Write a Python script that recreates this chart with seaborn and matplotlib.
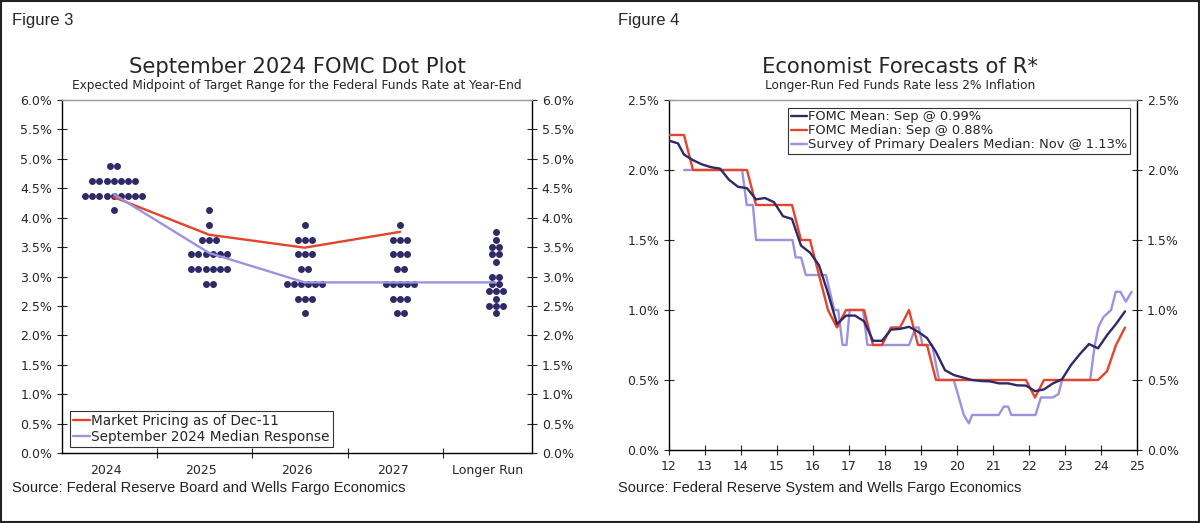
import matplotlib
matplotlib.use('Agg')
import matplotlib.pyplot as plt
import seaborn as sns
import pandas as pd
from matplotlib.ticker import FuncFormatter
from matplotlib.patches import Rectangle

NAVY = '#2d2a66'
RED = '#e5432b'
LAV = '#9c92e2'

# ---- Figure 3 data: September 2024 dot plot (rate -> number of dots)
categories = ['2024', '2025', '2026', '2027', 'Longer Run']
dots_2024 = {4.875: 2, 4.625: 7, 4.375: 9, 4.125: 1}
dots_2025 = {4.125: 1, 3.875: 1, 3.625: 3, 3.375: 6, 3.125: 6, 2.875: 2}
dots_2026 = {3.875: 1, 3.625: 3, 3.375: 3, 3.125: 2, 2.875: 6, 2.625: 3, 2.375: 1}
dots_2027 = {3.875: 1, 3.625: 3, 3.375: 3, 3.125: 2, 2.875: 5, 2.625: 3, 2.375: 2}
dots_lr = {3.75: 1, 3.625: 1, 3.5: 2, 3.375: 2, 3.25: 1, 3.0: 2, 2.875: 2,
           2.75: 3, 2.625: 1, 2.5: 3, 2.375: 1}
market_pricing = [4.35, 3.71, 3.49, 3.76]
median_response = [4.4, 3.4, 2.9, 2.9, 2.9]

# ---- Figure 4 data: R* forecasts (percent)
sep_dates = ['2012-01', '2012-04', '2012-06', '2012-09', '2012-12',
             '2013-03', '2013-06', '2013-09', '2013-12',
             '2014-03', '2014-06', '2014-09', '2014-12',
             '2015-03', '2015-06', '2015-09', '2015-12',
             '2016-03', '2016-06', '2016-09', '2016-12',
             '2017-03', '2017-06', '2017-09', '2017-12',
             '2018-03', '2018-06', '2018-09', '2018-12',
             '2019-03', '2019-06', '2019-09', '2019-12',
             '2020-06', '2020-09', '2020-12',
             '2021-03', '2021-06', '2021-09', '2021-12',
             '2022-03', '2022-06', '2022-09', '2022-12',
             '2023-03', '2023-06', '2023-09', '2023-12',
             '2024-03', '2024-06', '2024-09']
fomc_mean = [2.21, 2.19, 2.11, 2.07, 2.04,
             2.02, 2.01, 1.93, 1.88,
             1.87, 1.79, 1.80, 1.77,
             1.67, 1.65, 1.46, 1.41,
             1.32, 1.12, 0.90, 0.96,
             0.96, 0.92, 0.78, 0.78,
             0.86, 0.865, 0.88, 0.845,
             0.80, 0.70, 0.57, 0.535,
             0.50, 0.493, 0.49,
             0.476, 0.476, 0.462, 0.46,
             0.42, 0.433, 0.476, 0.505,
             0.607, 0.686, 0.757, 0.726,
             0.82, 0.90, 0.99]
fomc_median = [2.25, 2.25, 2.25, 2.0, 2.0,
               2.0, 2.0, 2.0, 2.0,
               2.0, 1.75, 1.75, 1.75,
               1.75, 1.75, 1.5, 1.5,
               1.25, 1.0, 0.875, 1.0,
               1.0, 1.0, 0.75, 0.75,
               0.875, 0.875, 1.0, 0.75,
               0.75, 0.5, 0.5, 0.5,
               0.5, 0.5, 0.5,
               0.5, 0.5, 0.5, 0.5,
               0.375, 0.5, 0.5, 0.5,
               0.5, 0.5, 0.5, 0.5,
               0.5625, 0.75, 0.875]
spd_year = [12.42, 14.03, 14.16, 14.33, 14.42, 15.43, 15.52, 15.67, 15.80, 16.36,
            16.59, 16.70, 16.82, 16.93, 17.02, 17.39, 17.51, 18.67, 18.85, 18.94,
            19.04, 19.31, 19.50, 19.91, 20.19, 20.33, 20.42, 21.16, 21.30, 21.42,
            21.51, 22.18, 22.33, 22.66, 22.82, 22.92, 23.70, 23.82, 23.93, 24.07,
            24.28, 24.41, 24.54, 24.69, 24.85]
spd_median = [2.0, 2.0, 1.75, 1.75, 1.5, 1.5, 1.375, 1.375, 1.25, 1.25,
              1.0, 1.0, 0.75, 0.75, 1.0, 1.0, 0.75, 0.75, 0.875, 0.875,
              0.75, 0.75, 0.5, 0.5, 0.25, 0.19, 0.25, 0.25, 0.31, 0.31,
              0.25, 0.25, 0.375, 0.375, 0.40, 0.5, 0.5, 0.74, 0.88, 0.95,
              1.0, 1.13, 1.13, 1.06, 1.13]

sns.set_style('ticks')
plt.rcParams['font.family'] = ['DejaVu Sans']
plt.rcParams['axes.edgecolor'] = 'black'
plt.rcParams['axes.linewidth'] = 1.0

fig = plt.figure(figsize=(12, 5.23), dpi=100)
ax1 = fig.add_axes([0.0517, 0.1338, 0.3916, 0.675])
ax2 = fig.add_axes([0.5575, 0.1396, 0.39, 0.6692])

pct = FuncFormatter(lambda v, p: f'{v:.1f}%')
LW = 1.7

# ---------------- Figure 3
DOT_STEP = 0.0745
rows = []
for i, counts in enumerate([dots_2024, dots_2025, dots_2026, dots_2027, dots_lr]):
    for rate, n in counts.items():
        for k in range(n):
            rows.append({'x': i + (k - (n - 1) / 2) * DOT_STEP, 'rate': rate})
dots = pd.DataFrame(rows)

sns.scatterplot(data=dots, x='x', y='rate', color=NAVY, s=25, linewidth=0,
                ax=ax1, zorder=2, legend=False)
sns.lineplot(x=list(range(len(market_pricing))), y=market_pricing, color=RED,
             lw=LW, ax=ax1, label='Market Pricing as of Dec-11', zorder=3)
sns.lineplot(x=list(range(len(median_response))), y=median_response, color=LAV,
             lw=LW, ax=ax1, label='September 2024 Median Response', zorder=3)

ax1.set_xlim(-0.54, 4.38)
ax1.set_ylim(0, 6)
ax1.set_yticks([v / 2 for v in range(13)])
ax1.yaxis.set_major_formatter(pct)
ax1.set_xticks([i + 0.45 for i in range(4)])
ax1.set_xticklabels([])
ax1.set_xticks([i - 0.08 for i in range(5)], minor=True)
ax1.set_xticklabels(categories, minor=True)
ax1.tick_params(axis='x', which='minor', length=0, pad=8, labelsize=9)
ax1.tick_params(axis='x', which='major', direction='inout', length=7)
ax1.tick_params(axis='y', direction='inout', length=7, left=True, right=True,
                labelleft=True, labelright=True, labelsize=9)
ax1.set_xlabel('')
ax1.set_ylabel('')
ax1.spines['top'].set_color('#9a9a9a')
leg1 = ax1.legend(loc='lower left', bbox_to_anchor=(0.017, 0.017), borderaxespad=0,
                  fontsize=9.8, frameon=True, fancybox=False, handlelength=1.2,
                  handletextpad=0.1, borderpad=0.25, labelspacing=0.1)
leg1.get_frame().set_edgecolor('black')
leg1.get_frame().set_linewidth(0.8)

# ---------------- Figure 4
sep_x = [int(d[:4]) - 2000 + (int(d[5:]) - 1) / 12 for d in sep_dates]
sns.lineplot(x=sep_x, y=fomc_mean, color=NAVY, lw=LW, ax=ax2,
             label='FOMC Mean: Sep @ 0.99%', zorder=4)
sns.lineplot(x=sep_x, y=fomc_median, color=RED, lw=LW, ax=ax2,
             label='FOMC Median: Sep @ 0.88%', zorder=3)
sns.lineplot(x=spd_year, y=spd_median, color=LAV, lw=LW, ax=ax2, sort=False,
             label='Survey of Primary Dealers Median: Nov @ 1.13%', zorder=2)

ax2.set_xlim(12, 25)
ax2.set_ylim(0, 2.5)
ax2.set_xticks(range(12, 26))
ax2.set_yticks([v / 2 for v in range(6)])
ax2.yaxis.set_major_formatter(pct)
ax2.tick_params(axis='x', direction='inout', length=7, labelsize=9)
ax2.tick_params(axis='y', direction='inout', length=7, left=True, right=True,
                labelleft=True, labelright=True, labelsize=9)
ax2.set_xlabel('')
ax2.set_ylabel('')
ax2.spines['top'].set_color('#9a9a9a')
leg2 = ax2.legend(loc='upper left', bbox_to_anchor=(0.255, 0.978), borderaxespad=0,
                  fontsize=9.4, frameon=True, fancybox=False, handlelength=1.2,
                  handletextpad=0.1, borderpad=0.2, labelspacing=0.08)
leg2.get_frame().set_edgecolor('black')
leg2.get_frame().set_linewidth(0.8)

# ---------------- Text
for x0, fig_label, src in [(0.01, 'Figure 3', 'Source: Federal Reserve Board and Wells Fargo Economics'),
                           (0.515, 'Figure 4', 'Source: Federal Reserve System and Wells Fargo Economics')]:
    fig.text(x0, 1 - 20 / 523, fig_label, fontsize=12, va='center', family='Liberation Sans')
    fig.text(x0, 1 - 488 / 523, src, fontsize=10.5, va='center', family='Liberation Sans',
             color='#222222')

fig.text(0.2475, 1 - 67 / 523, 'September 2024 FOMC Dot Plot', fontsize=15.2,
         ha='center', va='center')
fig.text(0.2475, 1 - 85 / 523,
         'Expected Midpoint of Target Range for the Federal Funds Rate at Year-End',
         fontsize=8.7, ha='center', va='center')
fig.text(0.75, 1 - 67 / 523, 'Economist Forecasts of R*', fontsize=15.2,
         ha='center', va='center')
fig.text(0.75, 1 - 85 / 523, 'Longer-Run Fed Funds Rate less 2% Inflation',
         fontsize=8.7, ha='center', va='center')

fig.patches.append(Rectangle((0.001, 0.002), 0.998, 0.996, transform=fig.transFigure,
                             fill=False, edgecolor='#222222', linewidth=1.5))

fig.savefig('out.png', dpi=100)
plt.close(fig)
